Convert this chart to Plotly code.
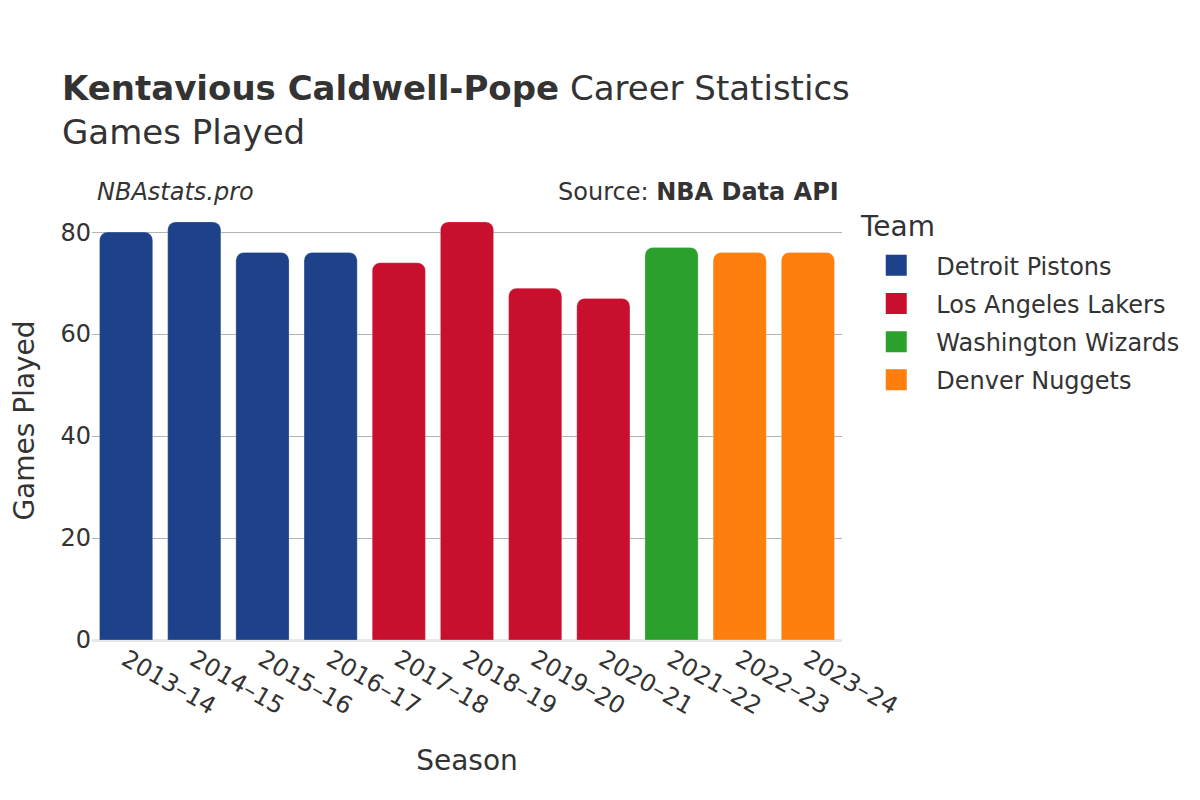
import plotly.graph_objects as go

seasons = ["2013–14", "2014–15", "2015–16", "2016–17", "2017–18", "2018–19",
           "2019–20", "2020–21", "2021–22", "2022–23", "2023–24"]
games = [80, 82, 76, 76, 74, 82, 69, 67, 77, 76, 76]
teams = ["Detroit Pistons"] * 4 + ["Los Angeles Lakers"] * 4 + ["Washington Wizards"] + ["Denver Nuggets"] * 2
team_order = ["Detroit Pistons", "Los Angeles Lakers", "Washington Wizards", "Denver Nuggets"]
team_colors = {"Detroit Pistons": "#1d428a", "Los Angeles Lakers": "#c8102e",
               "Washington Wizards": "#2ca02c", "Denver Nuggets": "#ff7f0e"}

FONT = "DejaVu Sans"
fig = go.Figure()
for t in team_order:
    xs = [s for s, tm in zip(seasons, teams) if tm == t]
    ys = [g for g, tm in zip(games, teams) if tm == t]
    fig.add_trace(go.Bar(x=xs, y=ys, name=t, marker_color=team_colors[t],
                         marker_line_width=0.5, marker_line_color="rgba(255,255,255,0.5)",
                         showlegend=False, legendgroup=t))
    # legend swatch
    fig.add_trace(go.Scatter(x=[None], y=[None], mode="markers", name=t, legendgroup=t,
                             marker=dict(symbol="square", size=16, color=team_colors[t],
                                         line=dict(width=5, color=team_colors[t]))))

fig.update_layout(
    width=1200, height=800,
    barmode="relative", bargap=0.22, barcornerradius=8,
    plot_bgcolor="white", paper_bgcolor="white",
    font=dict(family=FONT, color="#333333", size=20),
    margin=dict(l=84, r=366, t=193, b=168),
    title=dict(text="<b>Kentavious Caldwell-Pope</b> Career Statistics<br>Games Played",
               x=0.045, xanchor="left", y=0.885, yanchor="top",
               font=dict(size=34, family=FONT, color="#333333")),
    legend=dict(x=1.019, y=0.904,
                xanchor="left", yanchor="top", font=dict(size=24),
                itemwidth=70, tracegroupgap=4),
    xaxis=dict(categoryorder="array", categoryarray=seasons, tickangle=30,
               title=dict(text="Season", font=dict(size=28), standoff=30),
               tickfont=dict(size=24), showline=False, automargin=False),
    yaxis=dict(title=dict(text="Games Played", font=dict(size=28), standoff=32),
               tickfont=dict(size=24), gridcolor="#b3b3b3", gridwidth=1,
               zeroline=True, zerolinecolor="#e8e8e8", zerolinewidth=3,
               range=[0, 86.1], dtick=20, automargin=False),
    annotations=[
        dict(text="<i>NBAstats.pro</i>", x=0.0, y=1.0205, xref="paper", yref="paper",
             xanchor="left", yanchor="middle", showarrow=False,
             font=dict(size=24, family=FONT, color="#333333"), xshift=3),
        dict(text="Source: <b>NBA Data API</b>", x=1.0, y=1.0205, xref="paper", yref="paper",
             xanchor="right", yanchor="middle", showarrow=False,
             font=dict(size=24, family=FONT, color="#333333"), xshift=-1),
        dict(text="Team", x=1.021, y=0.9408, xref="paper", yref="paper",
             xanchor="left", yanchor="middle", showarrow=False,
             font=dict(size=28, family=FONT, color="#333333")),
    ],
)

fig.write_html("out.html")
